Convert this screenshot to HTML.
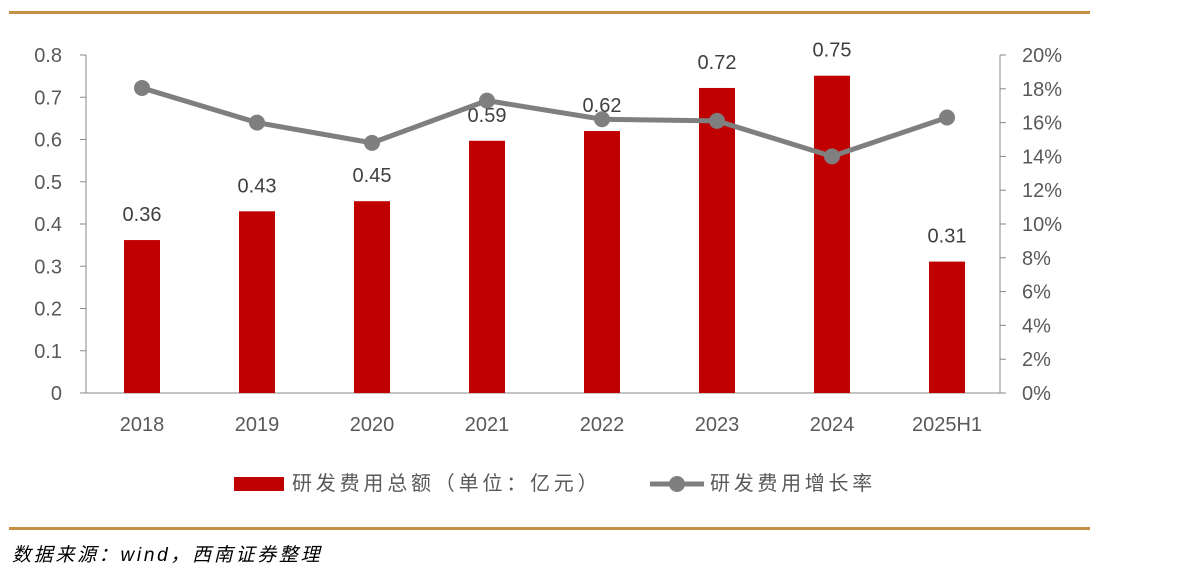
<!DOCTYPE html>
<html><head><meta charset="utf-8"><style>
body{margin:0;background:#fff;width:1190px;height:582px;overflow:hidden;font-family:"Liberation Sans","Noto Sans CJK SC",sans-serif}
svg text{font-family:"Liberation Sans","Noto Sans CJK SC",sans-serif}
</style></head><body>
<svg id="chart" width="1190" height="582" viewBox="0 0 1190 582" xmlns="http://www.w3.org/2000/svg">
<rect x="9" y="11" width="1081" height="3" fill="#C39044"/>
<rect x="9" y="527" width="1081" height="3" fill="#C39044"/>
<line x1="86" y1="55" x2="86" y2="393" stroke="#888"/>
<line x1="1000" y1="55" x2="1000" y2="393" stroke="#888"/>
<line x1="86" y1="393" x2="1000" y2="393" stroke="#888"/>
<g id="g"></g>
<g>
<rect x="234" y="477" width="50" height="14" fill="#C00000"/>
<text x="292" y="490" font-size="20" letter-spacing="3.8" fill="#595959">研发费用总额（单位：亿元）</text>
<line x1="650" y1="484" x2="704" y2="484" stroke="#7F7F7F" stroke-width="5"/>
<circle cx="677" cy="484" r="8" fill="#7F7F7F"/>
<text x="710" y="490" font-size="20" letter-spacing="3.7" fill="#595959">研发费用增长率</text>
</g>
<text x="12" y="561" font-size="19" font-style="italic" letter-spacing="2.7" fill="#000">数据来源：wind，西南证券整理</text>
</svg>
<script>
const categories=["2018","2019","2020","2021","2022","2023","2024","2025H1"];
const expense=[0.362,0.43,0.454,0.597,0.62,0.722,0.751,0.311];
const expenseLabels=["0.36","0.43","0.45","0.59","0.62","0.72","0.75","0.31"];
const growth=[18.05,16.0,14.8,17.3,16.2,16.1,14.0,16.3];
const leftTicks=[0,0.1,0.2,0.3,0.4,0.5,0.6,0.7,0.8];
const rightTicks=[0,2,4,6,8,10,12,14,16,18,20];
const NS="http://www.w3.org/2000/svg";
const g=document.getElementById('g');
const y0=393,yTop=55;
const yL=v=>y0-(v/0.8)*(y0-yTop);
const yR=v=>y0-(v/20)*(y0-yTop);
const xC=i=>142+i*115;
function mk(t,a){const e=document.createElementNS(NS,t);for(const k in a)e.setAttribute(k,a[k]);g.appendChild(e);return e;}
leftTicks.forEach(v=>{const y=yL(v);
 let l=mk('line',{x1:80,y1:y,x2:86,y2:y,stroke:'#888'});
 
 
 let t=mk('text',{x:62,y:y+7,'font-size':20,fill:'#595959','text-anchor':'end'});t.textContent=String(v);
 
 });
rightTicks.forEach(v=>{const y=yR(v);
 let l=mk('line',{x1:1000,y1:y,x2:1006,y2:y,stroke:'#888'});
 
 
 let t=mk('text',{x:1022,y:y+7,'font-size':20,fill:'#595959'});t.textContent=v+'%';
 
 });
categories.forEach((c,i)=>{
 let r=mk('rect',{x:xC(i)-18,y:yL(expense[i]),width:36,height:y0-yL(expense[i]),fill:'#C00000'});
 
 
 let t=mk('text',{x:xC(i),y:yL(expense[i])-19,'font-size':20,fill:'#404040','text-anchor':'middle'});t.textContent=expenseLabels[i];
 
 
 let x=mk('text',{x:xC(i),y:431,'font-size':20,fill:'#595959','text-anchor':'middle'});x.textContent=c;
 
 });
let pl=mk('polyline',{points:growth.map((v,i)=>xC(i)+','+yR(v)).join(' '),fill:'none',stroke:'#7F7F7F','stroke-width':5});


growth.forEach((v,i)=>{let c=mk('circle',{cx:xC(i),cy:yR(v),r:8,fill:'#7F7F7F'});
 
 });
</script>
</body></html>
